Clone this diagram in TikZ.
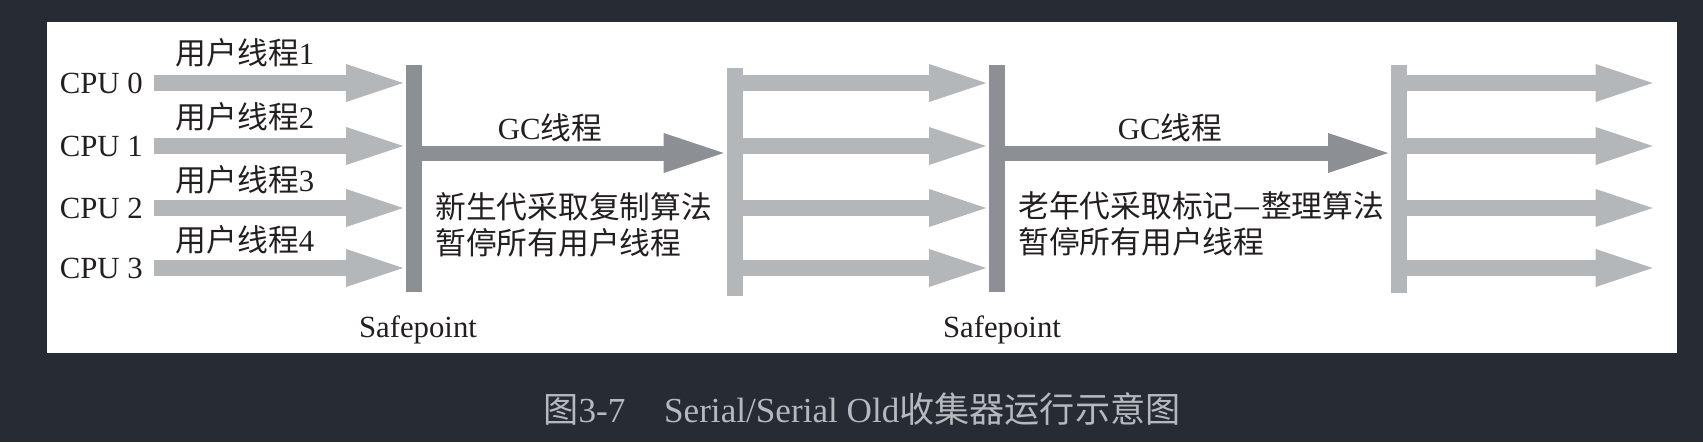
\documentclass[tikz,border=0pt]{standalone}
\usepackage{fontspec}
\setmainfont{Liberation Serif}
\newfontfamily\cjk{Noto Sans CJK SC}
\usetikzlibrary{positioning, arrows.meta, calc}
\definecolor{pagebg}{HTML}{272B33}
\definecolor{bardark}{HTML}{8C8F93}
\definecolor{barlight}{HTML}{B4B7BA}
\definecolor{captiongray}{HTML}{B5B8BD}
\definecolor{inkgray}{HTML}{231F20}
\tikzset{
  % Text
  cpulabel/.style={
    anchor=east, inner sep=0pt, text=inkgray,
    font=\fontsize{17.5}{20}\selectfont
  },
  threadlabel/.style={
    inner sep=0pt, text=inkgray,
    font=\fontsize{17.5}{20}\selectfont
  },
  note/.style={
    anchor=west, inner sep=0pt, align=left, text=inkgray,
    font=\fontsize{17.5}{20.5}\selectfont
  },
  % Safepoint / resume bars
  safebar/.style={
    fill=bardark, inner sep=0pt,
    minimum width=3.2mm, minimum height=45.4mm
  },
  resumebar/.style={
    fill=barlight, inner sep=0pt,
    minimum width=3.2mm, minimum height=45.6mm
  },
  % Block arrows
  threadarrow/.style={
    draw=barlight, line width=3.2mm,
    -{Triangle[length=11.4mm, width=7.6mm, line width=0pt]},
    shorten >=0.5mm
  },
  gcarrow/.style={
    draw=bardark, line width=3mm,
    -{Triangle[length=12mm, width=8mm, line width=0pt]},
    shorten >=0.5mm
  },
}

\begin{document}
\begin{tikzpicture}[x=0.2mm, y=-0.2mm]

  %% ── Frame ──
  \useasboundingbox (0,0) rectangle (1703,442);
  \fill[pagebg] (0,0) rectangle (1703,442);
  \fill[white] (47,22) rectangle (1677,353);

  %% ── CPUs and user threads ──
  \node[cpulabel] (cpu0) at (143,83)  {CPU 0};
  \node[cpulabel] (cpu1) at (143,146) {CPU 1};
  \node[cpulabel] (cpu2) at (143,208) {CPU 2};
  \node[cpulabel] (cpu3) at (143,268) {CPU 3};

  \node[threadlabel] (user0) at (245,53)  {{\cjk 用户线程}1};
  \node[threadlabel] (user1) at (245,117) {{\cjk 用户线程}2};
  \node[threadlabel] (user2) at (245,180) {{\cjk 用户线程}3};
  \node[threadlabel] (user3) at (245,240) {{\cjk 用户线程}4};

  %% ── Bars ──
  \node[safebar]   (sp1) at (414,178.5)  {};
  \node[resumebar] (rb1) at (734.5,182)  {};
  \node[safebar]   (sp2) at (997,178.5)  {};
  \node[resumebar] (rb2) at (1399,178.5) {};

  \node[threadlabel, anchor=base] (safe1) at ($(sp1.south)+(4,45)$) {Safepoint};
  \node[threadlabel, anchor=base] (safe2) at ($(sp2.south)+(5,45)$) {Safepoint};

  %% ── GC phases ──
  \coordinate (gclevel) at (0,153);
  \node[threadlabel] (gc1) at (550,128)  {GC{\cjk 线程}};
  \node[threadlabel] (gc2) at (1170,128) {GC{\cjk 线程}};
  \node[note] (young) at (435,225)  {{\cjk 新生代采取复制算法}\\{\cjk 暂停所有用户线程}};
  \node[note] (old)   at (1018,224) {{\cjk 老年代采取标记—整理算法}\\{\cjk 暂停所有用户线程}};

  \draw[gcarrow] (sp1.east |- gclevel) -- (rb1.west |- gclevel);
  \draw[gcarrow] (sp2.east |- gclevel) -- (rb2.west |- gclevel);

  %% ── User threads before the first safepoint ──
  \draw[threadarrow] ([xshift=2.2mm]cpu0.east) -- (sp1.west |- cpu0.east);
  \draw[threadarrow] ([xshift=2.2mm]cpu1.east) -- (sp1.west |- cpu1.east);
  \draw[threadarrow] ([xshift=2.2mm]cpu2.east) -- (sp1.west |- cpu2.east);
  \draw[threadarrow] ([xshift=2.2mm]cpu3.east) -- (sp1.west |- cpu3.east);

  %% ── User threads between the two collections ──
  \draw[threadarrow] (rb1.east |- cpu0.east) -- (sp2.west |- cpu0.east);
  \draw[threadarrow] (rb1.east |- cpu1.east) -- (sp2.west |- cpu1.east);
  \draw[threadarrow] (rb1.east |- cpu2.east) -- (sp2.west |- cpu2.east);
  \draw[threadarrow] (rb1.east |- cpu3.east) -- (sp2.west |- cpu3.east);

  %% ── User threads after the old collection ──
  \coordinate (end0) at (1655,83);
  \coordinate (end1) at (1655,146);
  \coordinate (end2) at (1655,208);
  \coordinate (end3) at (1655,268);
  \draw[threadarrow] (rb2.east |- cpu0.east) -- (end0);
  \draw[threadarrow] (rb2.east |- cpu1.east) -- (end1);
  \draw[threadarrow] (rb2.east |- cpu2.east) -- (end2);
  \draw[threadarrow] (rb2.east |- cpu3.east) -- (end3);

  %% ── Caption ──
  \node[text=captiongray, inner sep=0pt, font=\fontsize{20}{23}\selectfont] (caption) at (862,409)
    {{\cjk 图}3-7\hspace{1.1em}Serial/Serial Old{\cjk 收集器运行示意图}};

\end{tikzpicture}
\end{document}
